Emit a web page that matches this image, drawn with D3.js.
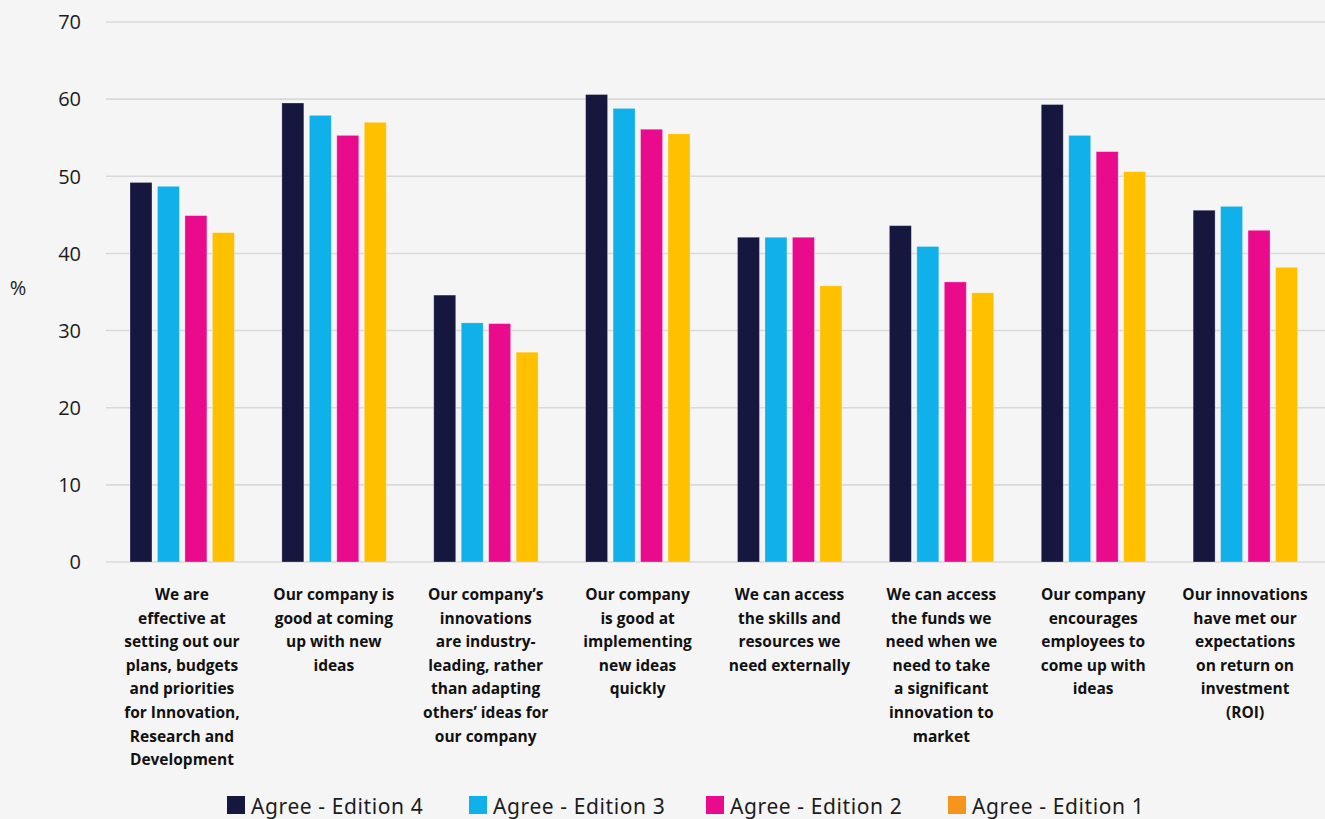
<!DOCTYPE html>
<html>
<head>
<meta charset="utf-8">
<script src="https://cdn.jsdelivr.net/npm/d3@7"></script>
<style>
  html, body { margin: 0; padding: 0; background: #f5f5f5; }
  svg { display: block; }
</style>
</head>
<body>
<svg id="chart" width="1325" height="819"></svg>
<script>
// Survey statements (x-axis categories), each split into display lines
const categories = [
  ["We are", "effective at", "setting out our", "plans, budgets", "and priorities", "for Innovation,", "Research and", "Development"],
  ["Our company is", "good at coming", "up with new", "ideas"],
  ["Our company\u2019s", "innovations", "are industry-", "leading, rather", "than adapting", "others\u2019 ideas for", "our company"],
  ["Our company", "is good at", "implementing", "new ideas", "quickly"],
  ["We can access", "the skills and", "resources we", "need externally"],
  ["We can access", "the funds we", "need when we", "need to take", "a significant", "innovation to", "market"],
  ["Our company", "encourages", "employees to", "come up with", "ideas"],
  ["Our innovations", "have met our", "expectations", "on return on", "investment", "(ROI)"]
];

const seriesNames = ["Agree - Edition 4", "Agree - Edition 3", "Agree - Edition 2", "Agree - Edition 1"];

// Percentage agreeing, per edition, in category order
const edition4 = [49.2, 59.5, 34.6, 60.6, 42.1, 43.6, 59.3, 45.6];
const edition3 = [48.7, 57.9, 31.0, 58.8, 42.1, 40.9, 55.3, 46.1];
const edition2 = [44.9, 55.3, 30.9, 56.1, 42.1, 36.3, 53.2, 43.0];
const edition1 = [42.7, 57.0, 27.2, 55.5, 35.8, 34.9, 50.6, 38.2];

const yTicks = [0, 10, 20, 30, 40, 50, 60, 70];

const barColors = ["#15173f", "#10b0ea", "#ea0a8c", "#ffc000"];
const legendColors = ["#15173f", "#10b0ea", "#ea0a8c", "#f7941d"];

const seriesValues = [edition4, edition3, edition2, edition1];

const svg = d3.select("#chart");
const W = 1325, H = 819;
const plot = { left: 106, right: 1325, top: 22, bottom: 562 };

svg.append("rect").attr("width", W).attr("height", H).attr("fill", "#f5f5f5");

// Group bands (the grid extends slightly past the last group)
const x = d3.scaleBand()
  .domain(d3.range(categories.length))
  .range([plot.left, 1321])
  .paddingInner(0).paddingOuter(0);

const inner = d3.scaleBand()
  .domain(d3.range(seriesNames.length))
  .range([24, x.bandwidth() - 23.5])
  .paddingInner(0.2).paddingOuter(0);

const y = d3.scaleLinear().domain([0, 70]).range([plot.bottom, plot.top]);

// Horizontal gridlines and tick labels
const yAxis = d3.axisLeft(y).tickValues(yTicks).tickSize(0).tickPadding(0);
const gy = svg.append("g").attr("transform", `translate(${plot.left},0)`).call(yAxis);
gy.select(".domain").remove();
gy.selectAll(".tick line").remove();
gy.selectAll(".tick text")
  .attr("x", -25)
  .attr("dy", "0.34em")
  .attr("font-family", "'Open Sans', Lato, sans-serif")
  .attr("font-size", 20)
  .attr("fill", "#1c1c1c");

svg.append("g").selectAll("line")
  .data(yTicks)
  .join("line")
  .attr("x1", plot.left).attr("x2", plot.right)
  .attr("y1", d => y(d)).attr("y2", d => y(d))
  .attr("stroke", "#d9d9d9")
  .attr("stroke-width", 1.6);

// Y-axis unit label
svg.append("text")
  .attr("x", 18).attr("y", 290)
  .attr("text-anchor", "middle")
  .attr("dominant-baseline", "middle")
  .attr("font-family", "'Open Sans', Lato, sans-serif")
  .attr("font-size", 20)
  .attr("fill", "#1c1c1c")
  .text("%");

// Grouped bars
const groups = svg.append("g").selectAll("g")
  .data(categories.map((c, i) => i))
  .join("g")
  .attr("transform", i => `translate(${x(i)},0)`);

groups.selectAll("rect")
  .data(i => seriesValues.map((vals, s) => ({ s, v: vals[i] })))
  .join("rect")
  .attr("x", d => inner(d.s))
  .attr("width", inner.bandwidth())
  .attr("y", d => y(d.v))
  .attr("height", d => y(0) - y(d.v))
  .attr("fill", d => barColors[d.s])
  .attr("stroke", "rgba(255,255,255,0.35)")
  .attr("stroke-width", 0.8);

// Category labels
const labelG = svg.append("g");
categories.forEach((lines, i) => {
  const cx = x(i) + x.bandwidth() / 2;
  const t = labelG.append("text")
    .attr("x", cx)
    .attr("y", 600)
    .attr("text-anchor", "middle")
    .attr("font-family", "'Open Sans', Lato, sans-serif")
    .attr("font-weight", 700)
    .attr("font-size", 15.5)
    .attr("fill", "#111");
  lines.forEach((ln, k) => {
    t.append("tspan")
      .attr("x", cx)
      .attr("y", 600 + k * 23.6)
      .text(ln);
  });
});

// Legend
const legendX = [227, 469, 706, 948];
const legend = svg.append("g");
seriesNames.forEach((name, s) => {
  legend.append("rect")
    .attr("x", legendX[s]).attr("y", 796)
    .attr("width", 18).attr("height", 18)
    .attr("fill", legendColors[s]);
  legend.append("text")
    .attr("x", legendX[s] + 24).attr("y", 814)
    .attr("font-family", "'Noto Sans', 'Open Sans', sans-serif")
    .attr("font-size", 21)
    .attr("letter-spacing", 0.6)
    .attr("fill", "#1c1c1c")
    .text(name);
});
</script>
</body>
</html>
